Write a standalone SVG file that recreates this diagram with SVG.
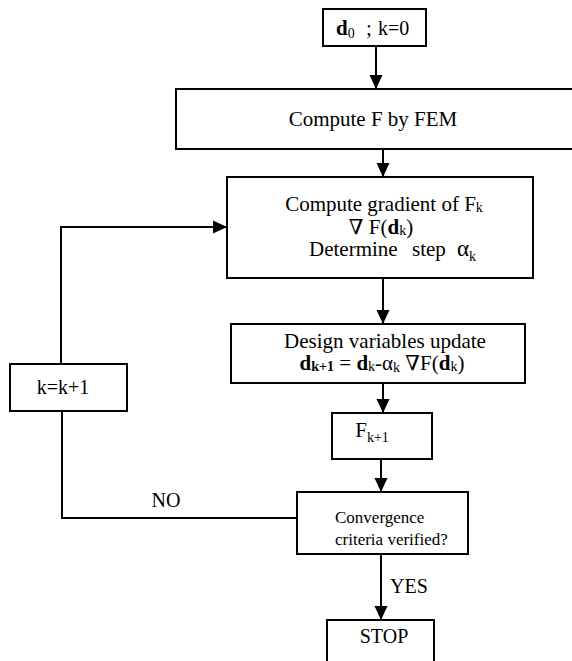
<svg xmlns="http://www.w3.org/2000/svg" width="572" height="661" viewBox="0 0 572 661">
  <style>
    .box { fill: #ffffff; stroke: #000000; stroke-width: 2; }
    .wire { fill: none; stroke: #000000; stroke-width: 2; }
    text { font-family: "Liberation Serif", "Times New Roman", "DejaVu Serif", serif; fill: #000000; font-size: 21px; }
    .c { text-anchor: middle; }
    .b { font-weight: bold; }
    .sub { font-size: 14px; }
    .small { font-size: 17px; }
  </style>
  <defs>
    <marker id="arrow" markerUnits="userSpaceOnUse" markerWidth="14" markerHeight="14" refX="14" refY="7" orient="auto">
      <path d="M0,0.5 L14,7 L0,13.5 z" fill="#000000"/>
    </marker>
  </defs>
  <rect width="572" height="661" fill="#ffffff"/>

  <!-- connectors -->
  <g id="connectors">
    <line class="wire" x1="376" y1="46" x2="376" y2="89" marker-end="url(#arrow)"/>
    <line class="wire" x1="383" y1="149" x2="383" y2="177" marker-end="url(#arrow)"/>
    <line class="wire" x1="383" y1="278" x2="383" y2="324" marker-end="url(#arrow)"/>
    <line class="wire" x1="383" y1="383" x2="383" y2="413" marker-end="url(#arrow)"/>
    <line class="wire" x1="381" y1="459" x2="381" y2="492" marker-end="url(#arrow)"/>
    <line class="wire" x1="381" y1="554" x2="381" y2="620" marker-end="url(#arrow)"/>
    <polyline class="wire" points="297,518 62,518 62,411"/>
    <polyline class="wire" points="61,364 61,227 227,227" marker-end="url(#arrow)"/>
    <text x="166" y="507" class="c" style="font-size:20px">NO</text>
    <text x="409" y="593" class="c" style="font-size:20px">YES</text>
  </g>

  <!-- start -->
  <g id="start">
    <rect class="box" x="323" y="9" width="103" height="37"/>
    <text x="336" y="35"><tspan class="b">d</tspan><tspan class="sub" dy="3">0</tspan></text>
    <text x="366" y="35">;</text>
    <text x="378" y="35" style="font-size:20px">k=0</text>
  </g>

  <!-- FEM analysis -->
  <g id="fem">
    <rect class="box" x="176" y="89" width="410" height="60"/>
    <text x="373" y="126" class="c">Compute F by FEM</text>
  </g>

  <!-- gradient and step -->
  <g id="gradient">
    <rect class="box" x="227" y="177" width="306" height="101"/>
    <text x="384" y="211" class="c">Compute gradient of F<tspan class="sub" dy="1">k</tspan></text>
    <text x="381" y="234" class="c">∇ F(<tspan class="b">d</tspan><tspan class="sub" dy="1">k</tspan><tspan dy="-1">)</tspan></text>
    <text x="309" y="256">Determine</text>
    <text x="412" y="256">step</text>
    <text x="457" y="256" style="font-size:23px">α<tspan class="sub" dy="5">k</tspan></text>
  </g>

  <!-- update -->
  <g id="update">
    <rect class="box" x="231" y="324" width="294" height="59"/>
    <text x="385" y="348" class="c">Design variables update</text>
    <text x="382" y="370" class="c"><tspan class="b">d</tspan><tspan class="sub b" dy="1">k+1</tspan><tspan dy="-1"> = </tspan><tspan class="b">d</tspan><tspan class="sub" dy="1">k</tspan><tspan dy="-1">-α</tspan><tspan class="sub" dy="2">k</tspan><tspan dy="-2"> ∇F(</tspan><tspan class="b">d</tspan><tspan class="sub" dy="1">k</tspan><tspan dy="-1">)</tspan></text>
  </g>

  <!-- new objective value -->
  <g id="fnext">
    <rect class="box" x="332" y="413" width="100" height="46"/>
    <text x="372" y="437" class="c">F<tspan class="sub" dy="5">k+1</tspan></text>
  </g>

  <!-- convergence check -->
  <g id="check">
    <rect class="box" x="297" y="492" width="171" height="62"/>
    <text x="335" y="523" class="small">Convergence</text>
    <text x="335" y="545" class="small">criteria verified?</text>
  </g>

  <!-- increment -->
  <g id="increment">
    <rect class="box" x="10" y="364" width="117" height="47"/>
    <text x="63" y="394" class="c" style="font-size:20px">k=k+1</text>
  </g>

  <!-- stop -->
  <g id="stop">
    <rect class="box" x="327" y="620" width="107" height="50"/>
    <text x="384" y="643" class="c" style="font-size:20px">STOP</text>
  </g>
</svg>
